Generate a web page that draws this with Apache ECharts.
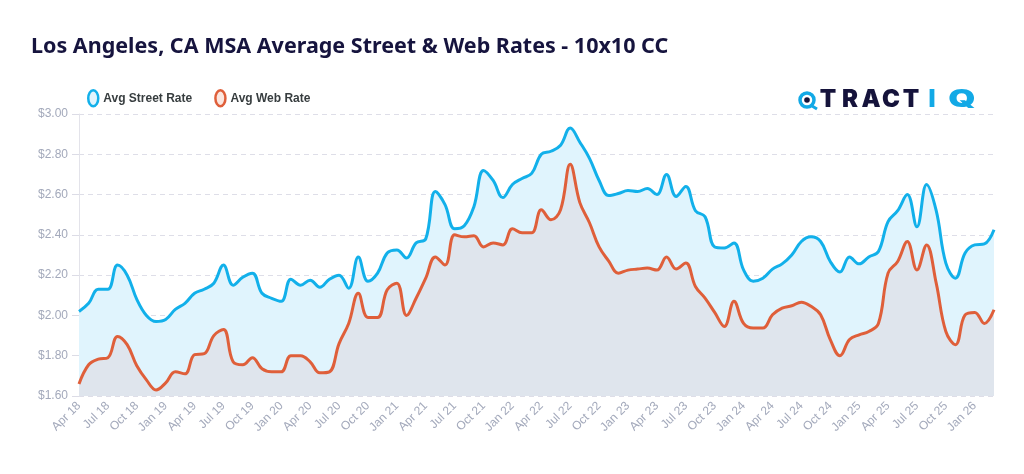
<!DOCTYPE html>
<html>
<head>
<meta charset="utf-8">
<script src="https://cdn.jsdelivr.net/npm/echarts@6/dist/echarts.min.js"></script>
<style>
html,body{margin:0;padding:0;background:#fff;}
#chart{width:1024px;height:474px;}
</style>
</head>
<body>
<div id="chart"></div>
<script>
const months = [
"Apr 18","May 18","Jun 18","Jul 18","Aug 18","Sep 18","Oct 18","Nov 18","Dec 18",
"Jan 19","Feb 19","Mar 19","Apr 19","May 19","Jun 19","Jul 19","Aug 19","Sep 19","Oct 19","Nov 19","Dec 19",
"Jan 20","Feb 20","Mar 20","Apr 20","May 20","Jun 20","Jul 20","Aug 20","Sep 20","Oct 20","Nov 20","Dec 20",
"Jan 21","Feb 21","Mar 21","Apr 21","May 21","Jun 21","Jul 21","Aug 21","Sep 21","Oct 21","Nov 21","Dec 21",
"Jan 22","Feb 22","Mar 22","Apr 22","May 22","Jun 22","Jul 22","Aug 22","Sep 22","Oct 22","Nov 22","Dec 22",
"Jan 23","Feb 23","Mar 23","Apr 23","May 23","Jun 23","Jul 23","Aug 23","Sep 23","Oct 23","Nov 23","Dec 23",
"Jan 24","Feb 24","Mar 24","Apr 24","May 24","Jun 24","Jul 24","Aug 24","Sep 24","Oct 24","Nov 24","Dec 24",
"Jan 25","Feb 25","Mar 25","Apr 25","May 25","Jun 25","Jul 25","Aug 25","Sep 25","Oct 25","Nov 25","Dec 25",
"Jan 26","Feb 26","Mar 26"
];
const avgStreetRate = [
2.02,2.06,2.13,2.13,2.25,2.20,2.08,2.00,1.97,
1.98,2.03,2.06,2.11,2.13,2.16,2.25,2.15,2.19,2.21,2.11,2.085,
2.07,2.18,2.15,2.175,2.14,2.18,2.20,2.135,2.29,2.17,2.21,2.31,
2.325,2.285,2.36,2.38,2.615,2.55,2.43,2.445,2.54,2.72,2.67,2.585,
2.65,2.68,2.705,2.80,2.815,2.845,2.93,2.86,2.78,2.67,2.595,2.605,
2.62,2.615,2.63,2.60,2.70,2.59,2.64,2.52,2.49,2.34,2.335,2.36,
2.226,2.17,2.185,2.23,2.256,2.30,2.367,2.39,2.367,2.268,2.215,2.29,
2.256,2.29,2.317,2.466,2.52,2.60,2.44,2.65,2.52,2.26,2.185,2.31,
2.35,2.355,2.425
];
const avgWebRate = [
1.66,1.755,1.783,1.79,1.896,1.855,1.75,1.68,1.63,
1.665,1.72,1.71,1.805,1.81,1.90,1.93,1.77,1.755,1.79,1.735,1.72,
1.72,1.80,1.80,1.77,1.715,1.72,1.86,1.96,2.11,1.99,1.99,2.127,
2.16,2.00,2.085,2.185,2.29,2.25,2.40,2.39,2.395,2.34,2.36,2.35,
2.43,2.41,2.41,2.525,2.475,2.525,2.75,2.56,2.46,2.34,2.27,2.21,
2.225,2.23,2.235,2.225,2.29,2.23,2.26,2.144,2.086,2.015,1.945,2.07,
1.96,1.937,1.937,2.003,2.036,2.048,2.066,2.045,2.003,1.88,1.80,1.88,
1.904,1.92,1.96,2.21,2.268,2.367,2.226,2.35,2.16,1.92,1.855,2.003,
2.015,1.96,2.028
];
const yTicks = {min: 1.6, max: 3.0, step: 0.2};

const chart = echarts.init(document.getElementById('chart'), null, {renderer: 'canvas'});
const streetColor = '#12b0ea', webColor = '#df5f3a';
const logoLetters = [
  {t:'T', x:828, c:'#15133b', sx:1},{t:'R', x:850, c:'#15133b', sx:1},{t:'A', x:871, c:'#15133b', sx:1},
  {t:'C', x:891, c:'#15133b', sx:1},{t:'T', x:911, c:'#15133b', sx:1},{t:'I', x:932, c:'#12a9e6', sx:1},{t:'Q', x:962, c:'#12a9e6', sx:1.45}
];
const graphics = [
  {type:'text', left:31, top:36, style:{text:'Los Angeles, CA MSA Average Street & Web Rates - 10x10 CC', fill:'#16143e', font:'bold 21.5px "Noto Sans"'}},
  {type:'circle', shape:{cx:807, cy:100, r:7}, style:{fill:'none', stroke:'#12a9e6', lineWidth:3.5}},
  {type:'circle', shape:{cx:807, cy:100, r:2.8}, style:{fill:'#15133b'}},
  {type:'line', shape:{x1:812, y1:106, x2:817, y2:109}, style:{stroke:'#12a9e6', lineWidth:3}}
];
logoLetters.forEach(l => graphics.push({type:'text', x:l.x, y:100, scaleX:l.sx, style:{text:l.t, fill:l.c, font:'900 24px Inter', align:'center', verticalAlign:'middle'}}));

const ellipse = 'path://M5,0 C7.8,0 10,3.6 10,8 C10,12.4 7.8,16 5,16 C2.2,16 0,12.4 0,8 C0,3.6 2.2,0 5,0 Z';

chart.setOption({
  animation: false,
  graphic: graphics,
  legend: {
    left: 82, top: 84, itemWidth: 10, itemHeight: 16, itemGap: 22,
    icon: ellipse,
    textStyle: {color:'#373d3f', fontSize: 12, fontWeight: 'bold', fontFamily: '"Liberation Sans", Arial'},
    data: [
      {name:'Avg Street Rate', itemStyle:{color:'#e0f4fd', borderColor: streetColor, borderWidth: 2.5}},
      {name:'Avg Web Rate', itemStyle:{color:'#fbe6df', borderColor: webColor, borderWidth: 2.5}}
    ]
  },
  grid: {left: 79, right: 30, top: 114, bottom: 78},
  xAxis: {
    type: 'category', data: months, boundaryGap: false,
    axisLine: {show: false}, axisTick: {show: false},
    axisLabel: {interval: 2, rotate: 45, color: '#a3a9bb', fontSize: 12, fontFamily: '"Liberation Sans", Arial', margin: 8}
  },
  yAxis: {
    type: 'value', min: yTicks.min, max: yTicks.max, interval: yTicks.step,
    axisLine: {show: true, lineStyle: {color: '#e3e3ea'}},
    axisTick: {show: true, length: 7, lineStyle: {color: '#dcdce6'}},
    splitLine: {lineStyle: {color: '#dedee8', type: [5, 4]}},
    axisLabel: {color: '#a3a9bb', fontSize: 12, fontFamily: '"Liberation Sans", Arial', margin: 11,
      formatter: v => '$' + v.toFixed(2)}
  },
  series: [
    {name:'Avg Street Rate', type:'line', data: avgStreetRate, smooth: 0.4, symbol:'none',
     lineStyle:{color: streetColor, width: 3}, itemStyle:{color: streetColor},
     areaStyle:{color:'#e0f4fd', opacity: 1, origin: 'start'}},
    {name:'Avg Web Rate', type:'line', data: avgWebRate, smooth: 0.4, symbol:'none',
     lineStyle:{color: webColor, width: 3}, itemStyle:{color: webColor},
     areaStyle:{color:'#dfe5ed', opacity: 1, origin: 'start'}}
  ]
});
</script>
</body>
</html>
